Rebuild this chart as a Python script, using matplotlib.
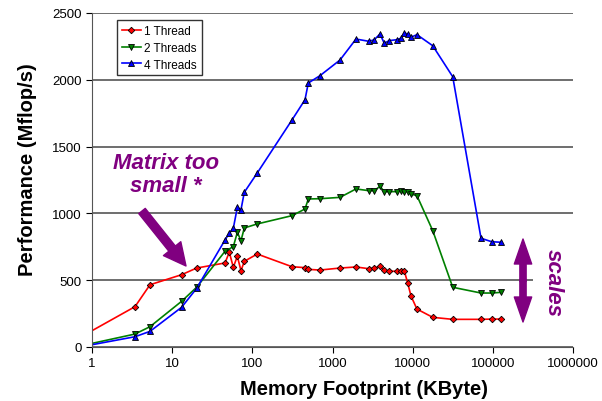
import matplotlib.pyplot as plt
from matplotlib.patches import FancyArrowPatch
from matplotlib.ticker import FixedLocator, FixedFormatter, NullLocator

plt.rcParams['font.family'] = ['Liberation Sans', 'DejaVu Sans']

# Memory footprint (KByte) and performance (Mflop/s)
x_1t = [1, 3.44, 5.29, 13.1, 20.2, 45.6, 51.6, 57.9, 65, 72.2, 79.4, 115, 312, 454, 499,
        698, 1240, 1963, 2853, 3324, 3910, 4430, 5070, 6310, 7140, 7870, 8650, 9530,
        11300, 17800, 31600, 71200, 96600, 126000]
perf_1t = [122, 302, 466, 541, 591, 629, 709, 597, 679, 571, 641, 696, 601, 594, 581,
           576, 591, 599, 586, 591, 604, 574, 567, 567, 569, 569, 481, 382,
           284, 222, 207, 207, 209, 209]

x_2t = [1, 3.44, 5.29, 13.1, 20.2, 45.6, 57.9, 65, 72.2, 79.4, 115, 312, 454, 499,
        698, 1240, 1963, 2853, 3324, 3910, 4430, 5070, 6310, 7140, 7870, 8650, 9530,
        11300, 17800, 31600, 71200, 96600, 126000]
perf_2t = [27, 97, 152, 342, 447, 716, 751, 858, 796, 891, 921, 983, 1033, 1108,
           1110, 1120, 1183, 1170, 1170, 1203, 1163, 1163, 1163, 1170, 1163, 1163, 1145,
           1133, 871, 447, 404, 404, 409]

x_4t = [1, 3.44, 5.29, 13.1, 20.2, 45.6, 51.6, 57.9, 65, 72.2, 79.4, 115, 312, 454, 499,
        698, 1240, 1963, 2853, 3324, 3910, 4430, 5070, 6310, 7140, 7870, 8650, 9530,
        11300, 17800, 31600, 71200, 96600, 126000]
perf_4t = [17, 77, 117, 297, 439, 801, 851, 888, 1045, 1028, 1158, 1302, 1699, 1851, 1976,
           2031, 2148, 2305, 2288, 2300, 2343, 2273, 2293, 2300, 2311, 2350, 2343, 2318,
           2338, 2255, 2023, 814, 788, 784]

x_ticks = [1, 10, 100, 1000, 10000, 100000, 1000000]
x_tick_labels = ['1', '10', '100', '1000', '10000', '100000', '1000000']
y_ticks = [0, 500, 1000, 1500, 2000, 2500]

W, H = 602, 402
fig = plt.figure(figsize=(W / 100, H / 100), dpi=100)
ax = fig.add_axes([92 / W, 54 / H, 481 / W, 334 / H])

mk = dict(markeredgecolor='black', markeredgewidth=0.6, linewidth=1.2, markevery=slice(1, None))
ax.plot(x_1t, perf_1t, color='red', marker='D', markersize=3.3, markerfacecolor='red', label='1 Thread', **mk)
ax.plot(x_2t, perf_2t, color='green', marker='v', markersize=4.5, markerfacecolor='green', label='2 Threads', **mk)
ax.plot(x_4t, perf_4t, color='blue', marker='^', markersize=4.5, markerfacecolor='blue', label='4 Threads', **mk)

ax.set_xscale('log')
ax.set_xlim(1, 1000000)
ax.set_ylim(0, 2500)
ax.xaxis.set_major_locator(FixedLocator(x_ticks))
ax.xaxis.set_major_formatter(FixedFormatter(x_tick_labels))
ax.xaxis.set_minor_locator(NullLocator())
ax.set_yticks(y_ticks)
ax.tick_params(labelsize=9.5, direction='out', length=4, colors='black')
ax.yaxis.grid(True, color='#555555', linewidth=1.2)
ax.set_axisbelow(True)
for s in ['top', 'right']:
    ax.spines[s].set_visible(False)
ax.spines['left'].set_color('#555555')
ax.spines['bottom'].set_color('#555555')

# axis titles placed where they sit in the reference
fig.text(364 / W, 1 - 390 / H, 'Memory Footprint (KByte)', fontsize=14.5, fontweight='bold',
         ha='center', va='center')
fig.text(28 / W, 1 - 170 / H, 'Performance (Mflop/s)', fontsize=14.5, fontweight='bold',
         ha='center', va='center', rotation=90)

leg = ax.legend(loc='upper left', bbox_to_anchor=(0.052, 0.978), fontsize=8.5, frameon=True,
                fancybox=False, edgecolor='black', handlelength=1.6, handletextpad=0.3,
                labelspacing=0.4, borderpad=0.4, borderaxespad=0)
leg.get_frame().set_linewidth(1.0)

purple = '#800080'
fig.text(166 / W, 1 - 175 / H, 'Matrix too\nsmall *', color=purple, fontsize=16, fontweight='bold',
         fontstyle='italic', ha='center', va='center', linespacing=1.1)
fig.patches.append(FancyArrowPatch(
    (142, H - 212), (186, H - 267), transform=None,
    arrowstyle='simple,tail_width=6,head_width=16,head_length=16',
    mutation_scale=1, shrinkA=0, shrinkB=0, color=purple, figure=fig))

# double-headed "scales" arrow
fig.text(553 / W, 1 - 283 / H, 'scales', rotation=-90, color=purple,
         fontsize=16, fontweight='bold', fontstyle='italic', ha='center', va='center',
         bbox=dict(facecolor='white', edgecolor='none', pad=7))
mid = (240 + 323) / 2
for end in (240, 323):
    fig.patches.append(FancyArrowPatch(
        (523, H - mid + (1 if end > mid else -1)), (523, H - end), transform=None,
        arrowstyle='simple,tail_width=4.5,head_width=12.5,head_length=18',
        mutation_scale=1, shrinkA=0, shrinkB=0, color=purple, figure=fig))

plt.savefig('out.png', dpi=100)
